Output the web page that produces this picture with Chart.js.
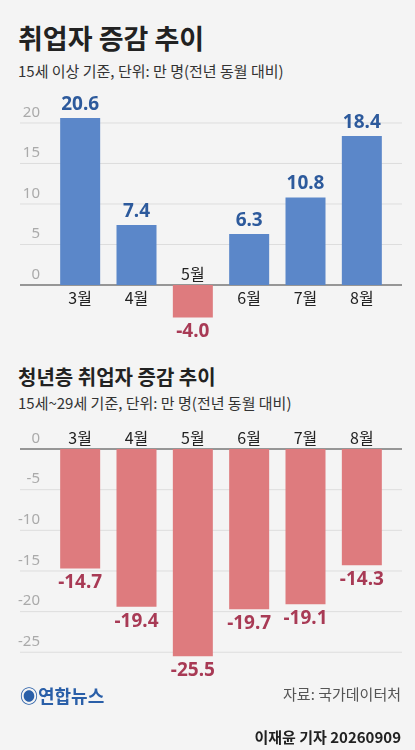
<!DOCTYPE html>
<html><head><meta charset="utf-8">
<script src="https://cdn.jsdelivr.net/npm/chart.js@4"></script>
<style>
body{margin:0;width:415px;height:750px;background:#f4f4f4;font-family:"Noto Sans CJK KR",sans-serif;position:relative;overflow:hidden}
.t{position:absolute;left:18px;font-weight:bold;color:#222}
.s{position:absolute;left:18px;color:#333;font-size:15px}
canvas{position:absolute;left:0}
</style></head><body>
<div class="t" style="top:18px;font-size:27px">취업자 증감 추이</div>
<div class="s" style="top:60px">15세 이상 기준, 단위: 만 명(전년 동월 대비)</div>
<div class="t" style="top:362px;font-size:20px">청년층 취업자 증감 추이</div>
<div class="s" style="top:392px">15세~29세 기준, 단위: 만 명(전년 동월 대비)</div>
<canvas id="c1" style="top:90px" width="415" height="250"></canvas>
<canvas id="c2" style="top:420px" width="415" height="270"></canvas>
<div style="position:absolute;left:20px;top:682px;font-size:18px;font-weight:bold;color:#2a5fa8">◉연합뉴스</div>
<div style="position:absolute;right:14px;top:683px;font-size:15px;color:#555">자료: 국가데이터처</div>
<div style="position:absolute;right:14px;top:726px;font-size:15px;color:#222;font-weight:bold">이재윤 기자 20260909</div>
<script>
const months = ['3월', '4월', '5월', '6월', '7월', '8월'];
const totalValues = [20.6, 7.4, -4.0, 6.3, 10.8, 18.4];
const youthValues = [-14.7, -19.4, -25.5, -19.7, -19.1, -14.3];
const totalTicks = [0, 5, 10, 15, 20];
const youthTicks = [0, -5, -10, -15, -20, -25];

const BLUE = '#5b87c9', RED = '#de7b7e';

function labelPlugin(ticks, monthsAbove) {
    return {
        id: 'labels',
        beforeDatasetsDraw(chart) {
            const ctx = chart.ctx, y = chart.scales.y;
            ctx.save();
            ticks.forEach(t => {
                const py = y.getPixelForValue(t);
                ctx.strokeStyle = t === 0 ? '#777' : '#ddd';
                ctx.lineWidth = t === 0 ? 1.5 : 1;
                ctx.beginPath(); ctx.moveTo(20, py); ctx.lineTo(402, py); ctx.stroke();
                ctx.fillStyle = '#aaa';
                ctx.font = '15px "Liberation Sans Narrow", "Noto Sans", sans-serif';
                ctx.textAlign = 'right'; ctx.textBaseline = 'bottom';
                ctx.fillText(t, 40, py - 3);
            });
            ctx.restore();
        },
        afterDatasetsDraw(chart) {
            const ctx = chart.ctx, y = chart.scales.y;
            const vals = chart.data.datasets[0].data;
            const meta = chart.getDatasetMeta(0);
            ctx.save();
            ctx.textAlign = 'center';
            vals.forEach((v, i) => {
                const bar = meta.data[i];
                const x = bar.x, z = y.getPixelForValue(0);
                ctx.font = 'bold 19px "Noto Sans", sans-serif';
                if (v >= 0) {
                    ctx.fillStyle = '#2d5a9c'; ctx.textBaseline = 'bottom';
                    ctx.fillText(v.toFixed(1), x, bar.y - 4);
                } else {
                    ctx.fillStyle = '#a83a55'; ctx.textBaseline = 'top';
                    ctx.fillText('-' + Math.abs(v).toFixed(1), x, bar.y + 5);
                }
                ctx.font = '16px "Noto Sans CJK KR", sans-serif';
                ctx.fillStyle = '#222';
                if (monthsAbove || v < 0) {
                    ctx.textBaseline = 'bottom';
                    ctx.fillText(months[i], x, z - 3);
                } else {
                    ctx.textBaseline = 'top';
                    ctx.fillText(months[i], x, z + 5);
                }
            });
            ctx.restore();
        }
    };
}

function makeChart(id, values, colors, min, max, ticks, monthsAbove) {
    new Chart(document.getElementById(id), {
        type: 'bar',
        data: { labels: months, datasets: [{ data: values, backgroundColor: colors, barPercentage: 0.71, categoryPercentage: 1 }] },
        options: {
            responsive: false, animation: false,
            layout: { padding: { left: 52, right: 25, top: 0, bottom: 0 } },
            plugins: { legend: { display: false }, tooltip: { enabled: false } },
            scales: {
                x: { display: false },
                y: { display: false, min: min, max: max }
            }
        },
        plugins: [labelPlugin(ticks, monthsAbove)]
    });
}

makeChart('c1', totalValues, totalValues.map(v => v >= 0 ? BLUE : RED), -6.79, 24.07, totalTicks, false);
makeChart('c2', youthValues, RED, -29.64, 3.57, youthTicks, true);
</script>
</body></html>
